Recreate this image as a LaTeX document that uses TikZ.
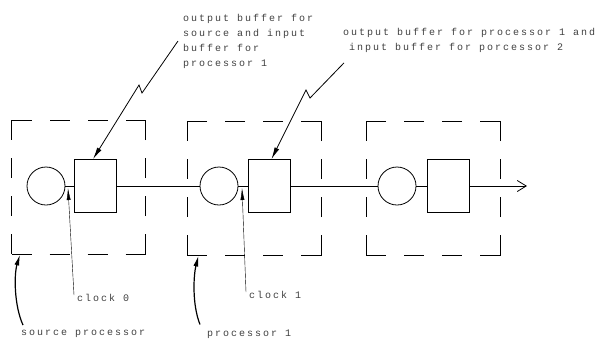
\documentclass[tikz,border=0pt]{standalone}
\usepackage{fontspec}
\newfontfamily\typefont[LetterSpace=20.0]{Liberation Mono}
\usetikzlibrary{arrows.meta,positioning}

\begin{document}
\begin{tikzpicture}[x=1pt,y=-1pt,
  proc/.style={draw,line width=1pt,minimum size=134pt,inner sep=0pt,
               dash pattern=on 40pt off 18pt on 20pt off 18pt on 20pt off 18pt,
               dash phase=20pt},
  clk/.style={circle,draw,line width=0.8pt,minimum size=38pt,inner sep=0pt},
  buf/.style={rectangle,draw,line width=0.8pt,minimum width=42pt,
              minimum height=53pt,inner sep=0pt},
  lbl/.style={font=\typefont\fontsize{10}{15}\selectfont,text=black!75,
              inner sep=0pt,align=left},
  lead/.style={draw,thin,-{Latex[length=12pt,width=4pt]}},
  bolt/.style={draw,line width=0.8pt,-{Latex[length=12pt,width=5pt]}},
  curv/.style={draw,line width=1.2pt,-{Latex[length=11pt,width=5pt]}},
]
  \useasboundingbox (0,0) rectangle (612,341);

  \node[proc] (src) at (78.5,187) {};
  \node[proc] (p1)  at (254,188)  {};
  \node[proc] (p2)  at (433,188)  {};

  \node[clk] (c1) at (46,186)    {};
  \node[buf] (r1) at (95,186)    {};
  \node[clk] (c2) at (219,186)   {};
  \node[buf] (r2) at (269.5,186) {};
  \node[clk] (c3) at (397,186)   {};
  \node[buf] (r3) at (448,186)   {};
  \coordinate (out) at (527,186);

  \draw[line width=0.8pt] (c1) -- (r1) -- (c2) -- (r2) -- (c3) -- (r3);
  \draw[line width=0.8pt,-{Straight Barb[length=9pt,width=11pt]}] (r3) -- (out);

  \node[lbl,anchor=west] (obuf) at (183,41)
    {output buffer for\\source and input\\buffer for\\processor 1};
  \node[lbl,anchor=west] (ibuf) at (343,40.5)
    {output buffer for processor 1 and\\\phantom{x}input buffer for porcessor 2};
  \node[lbl,anchor=west] (clk0) at (77,298)  {clock 0};
  \node[lbl,anchor=west] (clk1) at (249,295) {clock 1};
  \node[lbl,anchor=west] (srcl) at (21,334)  {source processor};
  \node[lbl,anchor=west] (p1l)  at (207,334) {processor 1};

  \coordinate (t0) at (68,188);
  \coordinate (t1) at (242,188);
  \draw[lead] ([shift={(-3pt,3pt)}]clk0.west) -- (t0);
  \draw[lead] ([shift={(-3pt,3pt)}]clk1.west) -- (t1);

  \draw[bolt] ([xshift=-5pt]obuf.west) -- (142,93) -- (139,85)
    -- ([xshift=-2pt]r1.north);
  \draw[bolt] ([shift={(1pt,-10pt)}]ibuf.south west) -- (310,98) -- (306,90)
    -- ([xshift=2pt]r2.north);

  \draw[curv] ([shift={(2pt,5pt)}]srcl.north west)
    .. controls +(-9,-20) and +(-6,20) .. ([xshift=9pt]src.south west);
  \draw[curv] ([shift={(-7pt,5pt)}]p1l.north west)
    .. controls +(-8,-20) and +(-5,20) .. ([xshift=12pt]p1.south west);
\end{tikzpicture}
\end{document}
